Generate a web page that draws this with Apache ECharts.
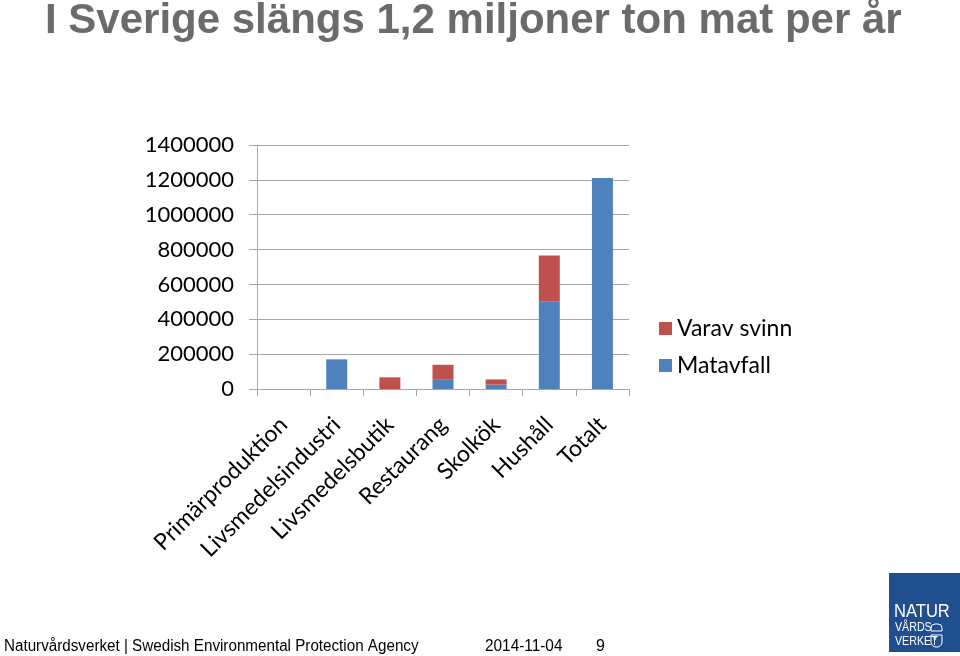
<!DOCTYPE html>
<html><head><meta charset="utf-8">
<script src="https://cdn.jsdelivr.net/npm/echarts@6/dist/echarts.min.js"></script>
<style>html,body{margin:0;padding:0;background:#fff}#c{width:960px;height:656px}</style>
</head><body><div id="c"></div>
<script>
const categories = ['Primärproduktion','Livsmedelsindustri','Livsmedelsbutik','Restaurang','Skolkök','Hushåll','Totalt'];
const matavfall = [0, 170000, 0, 53000, 25000, 500000, 1211000];
const varavSvinn = [0, 0, 67000, 86000, 30000, 266000, 0];
const yTicks = [0, 200000, 400000, 600000, 800000, 1000000, 1200000, 1400000];

const chart = echarts.init(document.getElementById('c'));
const axisFont = 'Lato, "Open Sans", sans-serif';
chart.setOption({
  animation: false,
  backgroundColor: '#fff',
  grid: { left: 257, right: 331, top: 145, bottom: 267 },
  legend: {
    orient: 'vertical', left: 654, top: 312,
    itemWidth: 13, itemHeight: 13, itemGap: 14,
    icon: 'rect',
    data: ['Varav svinn', 'Matavfall'],
    textStyle: { fontFamily: axisFont, fontSize: 23, color: '#000' }
  },
  xAxis: {
    type: 'category', data: categories,
    axisLine: { lineStyle: { color: '#a6a6a6', width: 1 } },
    axisTick: { show: true, length: 7, lineStyle: { color: '#a6a6a6' } },
    axisLabel: { rotate: 45, interval: 0, margin: 32, fontFamily: axisFont, fontSize: 23, color: '#000' }
  },
  yAxis: {
    type: 'value', min: yTicks[0], max: yTicks[yTicks.length - 1], interval: 200000,
    axisLine: { show: true, lineStyle: { color: '#a6a6a6' } },
    axisTick: { show: true, length: 8, lineStyle: { color: '#a6a6a6' } },
    splitLine: { lineStyle: { color: '#a6a6a6', width: 1 } },
    axisLabel: { margin: 23, fontFamily: axisFont, fontSize: 22, color: '#000', formatter: v => String(v) }
  },
  series: [
    { name: 'Matavfall', type: 'bar', stack: 's', barWidth: 21, data: matavfall, itemStyle: { color: '#4f81bd' } },
    { name: 'Varav svinn', type: 'bar', stack: 's', barWidth: 21, data: varavSvinn, itemStyle: { color: '#c0504d' } }
  ],
  graphic: [
    { type: 'text', left: 45, top: 0,
      style: { text: 'I Sverige slängs 1,2 miljoner ton mat per år', font: 'bold 42px "Liberation Sans", Arial, sans-serif', fill: '#6b6b6b' } },
    { type: 'text', x: 4, y: 639, scaleX: 0.95,
      style: { text: 'Naturvårdsverket | Swedish Environmental Protection Agency', font: '16px "Liberation Sans", Arial, sans-serif', fill: '#000' } },
    { type: 'text', x: 485, y: 639, scaleX: 0.96,
      style: { text: '2014-11-04', font: '16px "Liberation Sans", Arial, sans-serif', fill: '#000' } },
    { type: 'text', x: 596, y: 639,
      style: { text: '9', font: '16px "Liberation Sans", Arial, sans-serif', fill: '#000' } },
    { type: 'rect', shape: { x: 889, y: 573, width: 71, height: 79 }, style: { fill: '#1f4f8f' } },
    { type: 'text', x: 894, y: 603, scaleX: 0.92, style: { text: 'NATUR', font: '18px "Liberation Sans", sans-serif', fill: '#fff' } },
    { type: 'text', x: 895, y: 621, scaleX: 0.82, style: { text: 'VÅRDS', font: '13px "Liberation Sans", sans-serif', fill: '#fff' } },
    { type: 'text', x: 895, y: 635, scaleX: 0.82, style: { text: 'VERKET', font: '13px "Liberation Sans", sans-serif', fill: '#fff' } },
    { type: 'rect', shape: { x: 931, y: 624, width: 11, height: 7, r: [4, 4, 0, 0] }, style: { fill: 'none', stroke: '#fff', lineWidth: 1 } },
    { type: 'rect', shape: { x: 931, y: 635, width: 11, height: 12, r: [0, 0, 5, 5] }, style: { fill: 'none', stroke: '#fff', lineWidth: 1 } },
    { type: 'text', x: 933, y: 636, style: { text: '*', font: '10px "Liberation Sans", sans-serif', fill: '#fff' } }
  ]
});
</script></body></html>
